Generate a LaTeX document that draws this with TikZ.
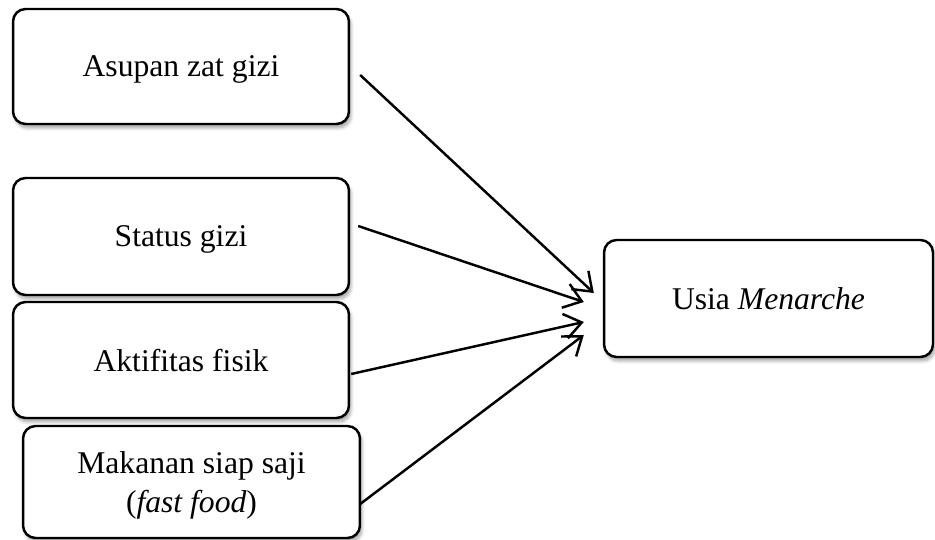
\documentclass[tikz,border=0pt]{standalone}
\usepackage{fontspec}
\setmainfont{Liberation Serif}
\usetikzlibrary{arrows.meta,shadows.blur}
\begin{document}
\begin{tikzpicture}[x=0.02cm, y=-0.02cm, line width=1.4pt,
  factor/.style={draw, rounded corners=0.25cm, fill=white, align=center,
    font=\fontsize{18}{22.7}\selectfont, inner sep=0pt, text depth=0pt,
    blur shadow={shadow xshift=0.04cm, shadow yshift=-0.08cm, shadow blur steps=6, shadow opacity=35}},
  link/.style={-{Straight Barb[length=0.34cm, width=0.5cm]}}]
  \useasboundingbox (0,0) rectangle (935,540);
  \node[factor, minimum width=6.72cm, minimum height=2.30cm] (asupan) at (181,66.5) {Asupan zat gizi};
  \node[factor, minimum width=6.72cm, minimum height=2.34cm] (status) at (181,236.5) {Status gizi};
  \node[factor, minimum width=6.72cm, minimum height=2.32cm] (aktif) at (181,360) {Aktifitas fisik};
  \node[factor, minimum width=6.74cm, minimum height=2.24cm] (makanan) at (191.5,482) {Makanan siap saji\\(\textit{fast food})};
  \node[factor, minimum width=6.58cm, minimum height=2.34cm] (usia) at (768.5,298.5) {Usia \textit{Menarche}};
  \draw[link] ([xshift=0.20cm, yshift=-0.17cm]asupan.east) -- ([xshift=-0.18cm, yshift=0.11cm]usia.west);
  \draw[link] ([xshift=0.16cm, yshift=0.21cm]status.east) -- ([xshift=-0.38cm, yshift=-0.07cm]usia.west);
  \draw[link] ([xshift=0.02cm, yshift=-0.28cm]aktif.east) -- ([xshift=-0.38cm, yshift=-0.47cm]usia.west);
  \draw[link] ([xshift=-0.02cm, yshift=-0.44cm]makanan.east) -- ([xshift=-0.38cm, yshift=-0.73cm]usia.west);
\end{tikzpicture}
\end{document}
